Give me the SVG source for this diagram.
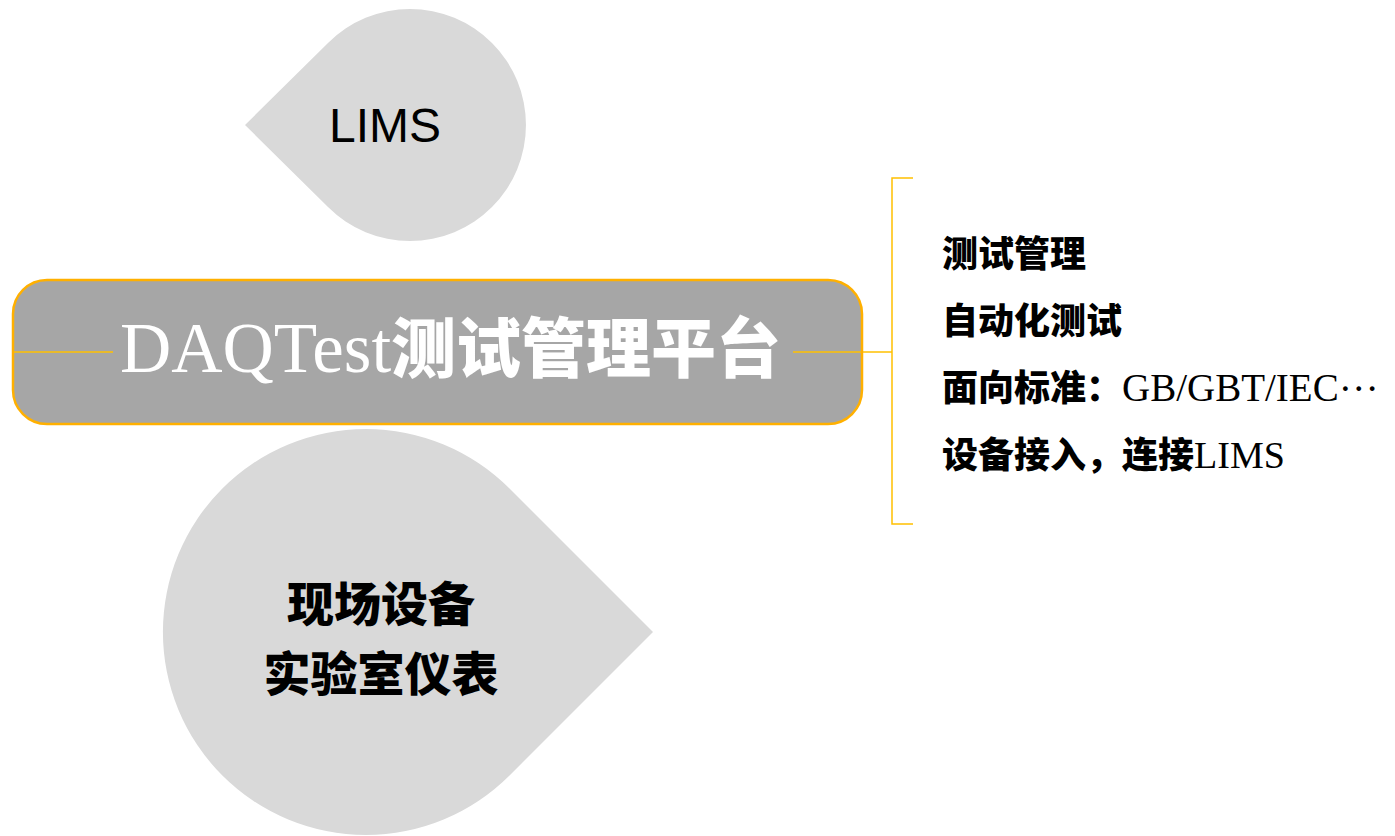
<svg xmlns="http://www.w3.org/2000/svg" width="1395" height="836" viewBox="0 0 1395 836">
  <style>
    .drop { fill: #d9d9d9; }
    .line { stroke: #ffc000; stroke-width: 1.5; fill: none; }
    .cjk { font-family: "Noto Sans CJK SC", "Noto Sans", sans-serif; font-weight: 900; }
    .lat { font-family: "Liberation Serif", "Noto Sans CJK SC", serif; font-weight: normal; }
    .item { font-size: 36px; fill: #000; }
  </style>
  <rect width="1395" height="836" fill="#ffffff"/>
  <g id="node-lims">
    <path class="drop" d="M245,125 L328,43 A116,116 0 1 1 328,207 Z"/>
    <text x="385" y="142" text-anchor="middle" font-family="Liberation Sans, Arial, sans-serif" font-size="48" fill="#000">LIMS</text>
  </g>
  <g id="node-devices">
    <path class="drop" d="M653,632 L509.5,775.5 A203,203 0 1 1 509.5,488.5 Z"/>
    <text class="cjk" x="381" y="621" text-anchor="middle" font-size="47" fill="#000">现场设备</text>
    <text class="cjk" x="381" y="691" text-anchor="middle" font-size="47" fill="#000">实验室仪表</text>
  </g>
  <g id="connectors">
    <line class="line" x1="13" y1="352" x2="113" y2="352"/>
    <line class="line" x1="793" y1="352" x2="892" y2="352"/>
    <path class="line" d="M913,178 H892 V524 H913"/>
  </g>
  <g id="node-platform">
    <rect x="13" y="280" width="849" height="144" rx="34" ry="34" fill="#a6a6a6" stroke="#ffb000" stroke-width="2.5"/>
    <line class="line" x1="14" y1="352" x2="113" y2="352"/>
    <line class="line" x1="793" y1="352" x2="861" y2="352"/>
    <text x="120" y="372" fill="#ffffff"><tspan class="lat" font-size="71">DAQTest</tspan><tspan class="cjk" font-size="65">测试管理平台</tspan></text>
  </g>
  <g id="node-features">
    <text class="cjk item" x="942" y="267">测试管理</text>
    <text class="cjk item" x="942" y="334">自动化测试</text>
    <text class="cjk item" x="942" y="401">面向标准：<tspan class="lat" font-size="39">GB/GBT/IEC</tspan><tspan dy="-10" font-family="Liberation Serif, serif" font-weight="normal" font-size="40">…</tspan></text>
    <text class="cjk item" x="942" y="468">设备接入，连接<tspan class="lat" font-size="38">LIMS</tspan></text>
  </g>
</svg>
